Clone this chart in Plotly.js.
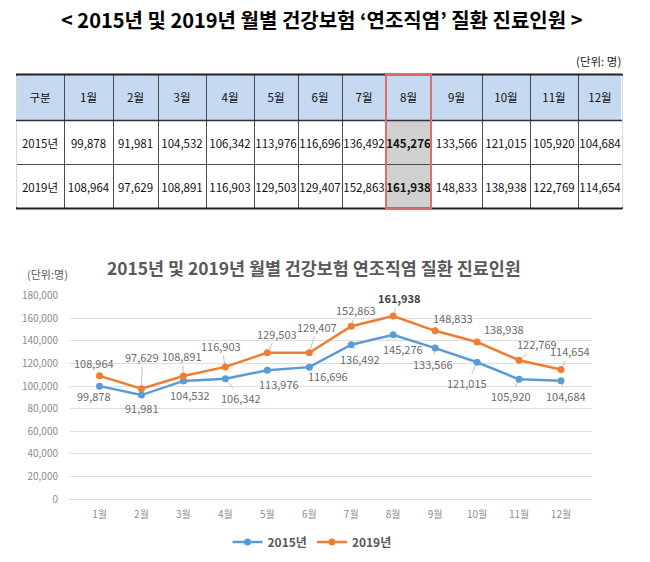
<!DOCTYPE html>
<html>
<head>
<meta charset="utf-8">
<script src="https://cdn.plot.ly/plotly-3.0.1.min.js"></script>
<style>
  html, body { margin: 0; padding: 0; background: #fff; }
  #chart { width: 650px; height: 562px; }
</style>
</head>
<body>
<div id="chart"></div>
<script>
// Monthly patients treated for cellulitis (health insurance), 2015 vs 2019
const months = ['1월', '2월', '3월', '4월', '5월', '6월', '7월', '8월', '9월', '10월', '11월', '12월'];
const years = ['2015년', '2019년'];
const patients2015 = [99878, 91981, 104532, 106342, 113976, 116696, 136492, 145276, 133566, 121015, 105920, 104684];
const patients2019 = [108964, 97629, 108891, 116903, 129503, 129407, 152863, 161938, 148833, 138938, 122769, 114654];
const peakMonth = '8월';

const W = 650, H = 562;
const FONT = '"Noto Sans CJK KR", "Noto Sans", sans-serif';
const fmt = v => v.toLocaleString('en-US');
const px = x => x / W;          // pixel -> paper x
const py = y => 1 - y / H;      // pixel -> paper y

// ---- table geometry ----
const colWidths = [48, 49, 45, 48, 48, 44, 44, 44, 45, 51, 48, 48, 44];
const tableLeft = 16, tableTop = 74.5, headH = 46, rowH = 44;
const tableBottom = tableTop + headH + 2 * rowH;
const tableRight = tableLeft + colWidths.reduce((a, b) => a + b, 0);
const textDrop = 11;            // pushes cell text to the vertical middle of each row

const pk = months.indexOf(peakMonth);
const pkLeft = tableLeft + colWidths.slice(0, pk + 1).reduce((a, b) => a + b, 0);
const pkRight = pkLeft + colWidths[pk + 1];

const headerVals = ['구분'].concat(months);
const cellVals = [years].concat(months.map((m, i) => [fmt(patients2015[i]), fmt(patients2019[i])]));
const blanks = headerVals.map(() => '');
const cellFill = headerVals.map(h => (h === peakMonth ? '#D0D0D0' : '#ffffff'));
const cellWeight = headerVals.map(h => (h === peakMonth ? 'bold' : 'normal'));

// table grid and fills
const tableGrid = {
  type: 'table',
  domain: { x: [px(tableLeft), px(tableRight)], y: [py(tableBottom + 4), py(tableTop)] },
  columnwidth: colWidths,
  header: {
    values: blanks, height: headH,
    fill: { color: '#C5D9F1' },
    line: { color: '#4a4a4a', width: 1 },
    font: { family: FONT, size: 11.5, color: '#111' }
  },
  cells: {
    values: headerVals.map(() => ['', '']), height: rowH,
    fill: { color: cellFill },
    line: { color: '#4a4a4a', width: 1 },
    font: { family: FONT, size: 11.5, color: '#111' }
  },
  hoverinfo: 'skip'
};

// table text
const tableText = {
  type: 'table',
  domain: { x: [px(tableLeft), px(tableRight)], y: [py(tableBottom + 4 + textDrop), py(tableTop + textDrop)] },
  columnwidth: colWidths,
  header: {
    values: headerVals, align: 'center', height: headH,
    fill: { color: 'rgba(0,0,0,0)' },
    line: { color: 'rgba(0,0,0,0)', width: 0 },
    font: { family: FONT, size: 11.5, color: '#111' }
  },
  cells: {
    values: cellVals, align: 'center', height: rowH,
    fill: { color: 'rgba(0,0,0,0)' },
    line: { color: 'rgba(0,0,0,0)', width: 0 },
    font: { family: FONT, size: 11.5, color: '#111', weight: cellWeight }
  },
  hoverinfo: 'skip'
};

function hLine(y, w, c) {
  return { type: 'line', xref: 'paper', yref: 'paper', layer: 'above',
           x0: px(tableLeft), x1: px(tableRight), y0: py(y), y1: py(y), line: { color: c, width: w } };
}
function vLine(x, w, c) {
  return { type: 'line', xref: 'paper', yref: 'paper', layer: 'above',
           x0: px(x), x1: px(x), y0: py(tableTop + 1.5), y1: py(tableBottom - 1.5), line: { color: c, width: w } };
}
const tableShapes = [
  vLine(tableLeft, 1.6, '#ffffff'),
  vLine(tableRight, 1.6, '#ffffff'),
  hLine(tableTop, 2, '#222222'),
  hLine(tableTop + headH, 1.5, '#333333'),
  hLine(tableBottom, 2, '#222222'),
  { type: 'rect', xref: 'paper', yref: 'paper', layer: 'above',
    x0: px(pkLeft), x1: px(pkRight), y0: py(tableBottom), y1: py(tableTop),
    line: { color: '#E06C6C', width: 2 }, fillcolor: 'rgba(0,0,0,0)' }
];

// ---- line chart ----
const line2015 = {
  type: 'scatter', mode: 'lines+markers', name: '2015년',
  x: months, y: patients2015,
  line: { color: '#5B9BD5', width: 2.5 },
  marker: { color: '#5B9BD5', size: 7 },
  hoverinfo: 'skip'
};
const line2019 = {
  type: 'scatter', mode: 'lines+markers', name: '2019년',
  x: months, y: patients2019,
  line: { color: '#ED7D31', width: 2.5 },
  marker: { color: '#ED7D31', size: 7 },
  hoverinfo: 'skip'
};

// data-label placement: [dx, dy, leader line]
const place2019 = [[-6, -13, 0], [1, -32, 1], [-1, -20, 1], [-4, -21, 1], [10, -19, 1], [8, -26, 1],
                   [5, -16, 1], [6, -18, 1], [18, -13, 0], [27, -13, 0], [18, -16, 1], [9, -18, 1]];
const place2015 = [[-6, 10, 0], [1, 13, 1], [7, 14, 0], [16, 19, 1], [12, 14, 0], [19, 9, 1],
                   [9, 14, 1], [10, 14, 1], [-2, 16, 1], [-10, 21, 1], [-8, 17, 1], [5, 15, 1]];

function dataLabels(values, place) {
  return values.map((v, i) => {
    const [dx, dy, leader] = place[i];
    const bold = months[i] === peakMonth && values === patients2019;
    const a = {
      x: months[i], y: v, xref: 'x', yref: 'y',
      text: bold ? '<b>' + fmt(v) + '</b>' : fmt(v),
      font: { family: FONT, size: 11, color: bold ? '#404040' : '#6b6b6b' }
    };
    if (leader) {
      Object.assign(a, { showarrow: true, ax: dx, ay: dy, arrowhead: 0, arrowwidth: 0.8,
                         arrowcolor: '#b0b0b0', standoff: 3 });
    } else {
      Object.assign(a, { showarrow: false, xshift: dx, yshift: -dy });
    }
    return a;
  });
}

const annotations = [
  { text: '<b>&lt; 2015년 및 2019년 월별 건강보험 ‘연조직염’ 질환 진료인원 &gt;</b>',
    xref: 'paper', yref: 'paper', x: px(322), y: py(19), xanchor: 'center', yanchor: 'middle',
    showarrow: false, font: { family: FONT, size: 20, color: '#000' } },
  { text: '(단위: 명)', xref: 'paper', yref: 'paper', x: px(623), y: py(61),
    xanchor: 'right', yanchor: 'middle', showarrow: false,
    font: { family: FONT, size: 11.5, color: '#222' } },
  { text: '<b>2015년 및 2019년 월별 건강보험 연조직염 질환 진료인원</b>',
    xref: 'paper', yref: 'paper', x: px(314), y: py(267), xanchor: 'center', yanchor: 'middle',
    showarrow: false, font: { family: FONT, size: 17.4, color: '#595959' } },
  { text: '(단위:명)', xref: 'paper', yref: 'paper', x: px(25), y: py(274), xanchor: 'left',
    yanchor: 'middle', showarrow: false, font: { family: FONT, size: 11, color: '#595959' } }
].concat(dataLabels(patients2019, place2019), dataLabels(patients2015, place2015));

const layout = {
  width: W, height: H,
  margin: { l: 0, r: 0, t: 0, b: 0 },
  paper_bgcolor: '#ffffff', plot_bgcolor: '#ffffff',
  showlegend: true,
  legend: {
    orientation: 'h', x: px(312), y: py(542), xanchor: 'center', yanchor: 'middle',
    font: { family: FONT, size: 12, color: '#595959', weight: 'bold' },
    itemwidth: 30, tracegroupgap: 0
  },
  xaxis: {
    domain: [px(69), px(592)],
    anchor: 'y',
    type: 'category',
    categoryorder: 'array', categoryarray: months,
    showgrid: false, showline: false, zeroline: false,
    ticks: '', ticklabelstandoff: 8,
    tickfont: { family: FONT, size: 10, color: '#8c8c8c' }
  },
  yaxis: {
    domain: [py(499), py(295.6)],
    anchor: 'x',
    range: [0, 180000], dtick: 20000, tickformat: ',',
    showgrid: true, gridcolor: '#dedede', gridwidth: 1,
    zeroline: true, zerolinecolor: '#d9d9d9', zerolinewidth: 1,
    showline: false, ticks: '', ticklabelstandoff: 10,
    tickfont: { family: FONT, size: 10, color: '#8c8c8c' }
  },
  shapes: tableShapes,
  annotations: annotations
};

Plotly.newPlot('chart', [tableGrid, tableText, line2015, line2019], layout, { displayModeBar: false, staticPlot: true });
</script>
</body>
</html>
